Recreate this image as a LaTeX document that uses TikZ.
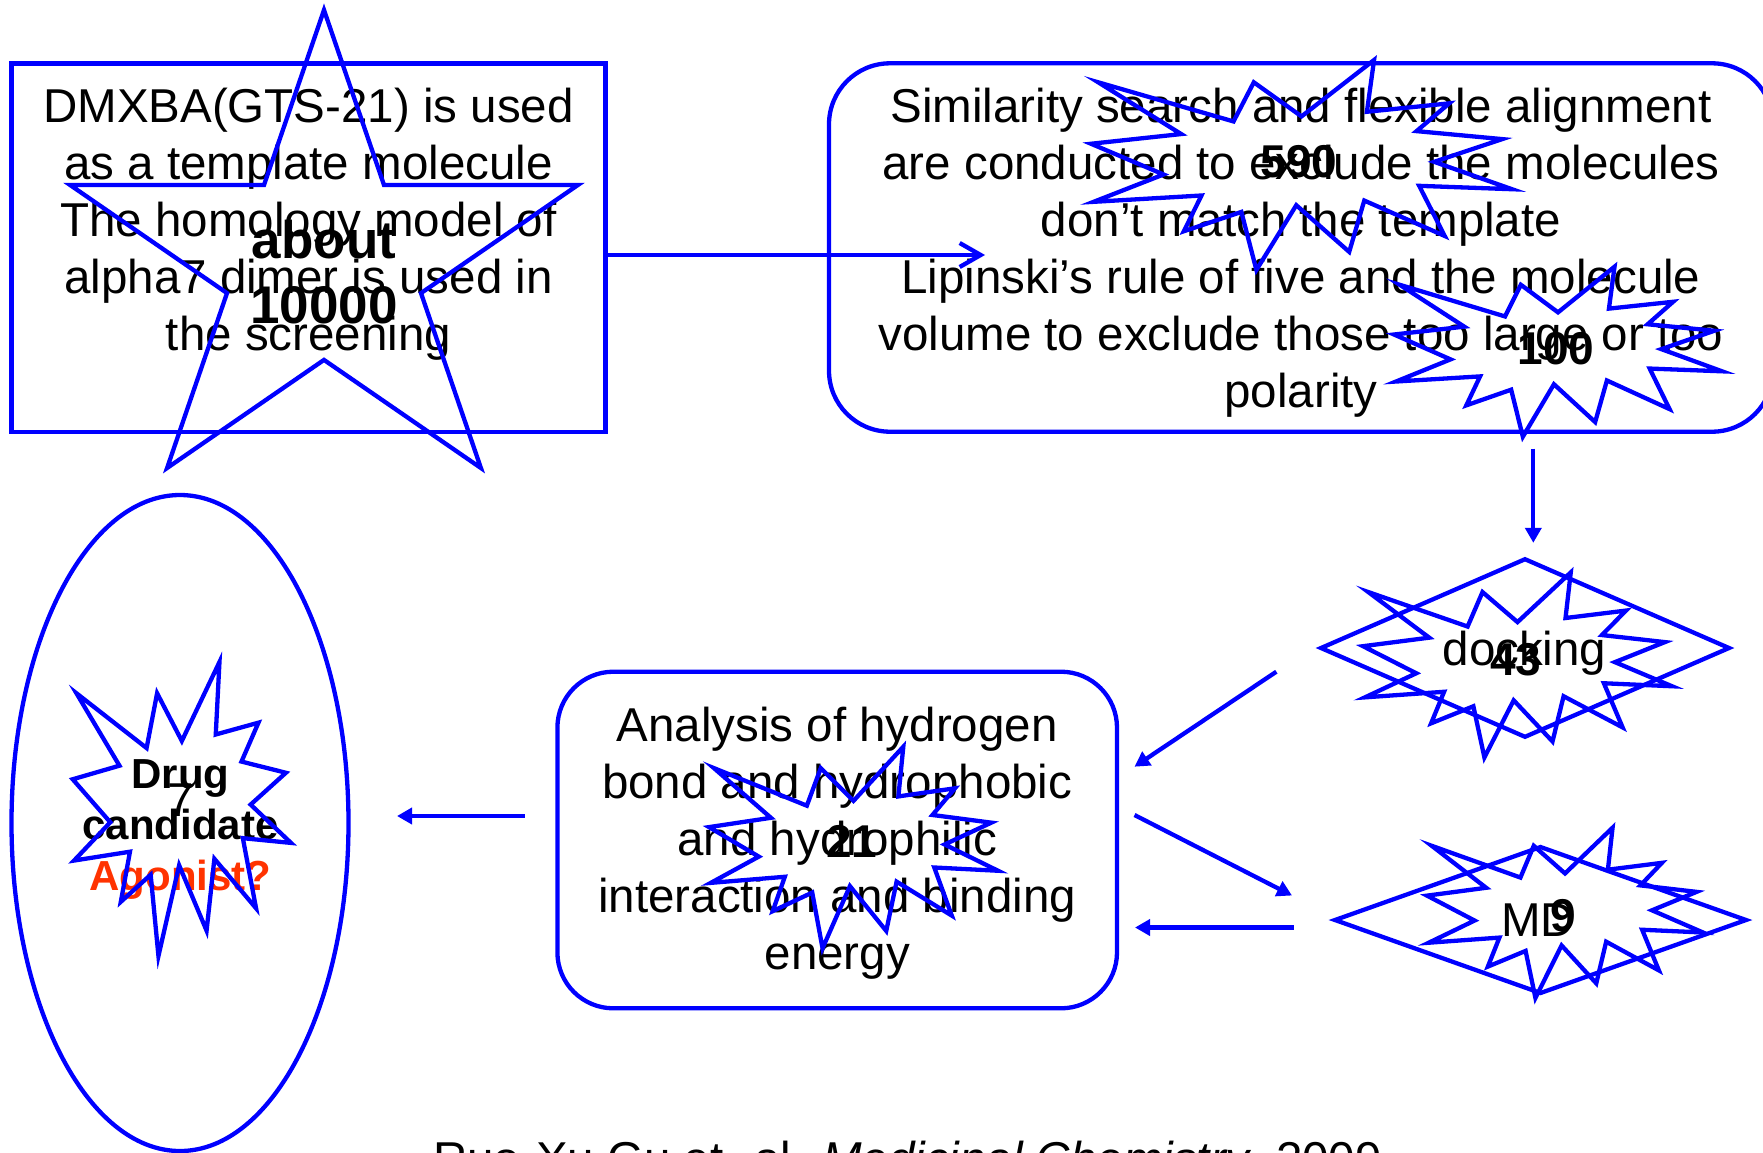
\documentclass[tikz,border=0pt]{standalone}
\usepackage{fontspec}
\setmainfont{Liberation Sans}
\usetikzlibrary{shapes.geometric,arrows.meta}
\definecolor{pblue}{RGB}{0,0,255}
\definecolor{pred}{RGB}{255,51,0}
\begin{document}
\begin{tikzpicture}[x=1pt,y=-1pt,
  shapeline/.style={draw=pblue,line width=4.3pt},
  boxshape/.style={shapeline,inner sep=0pt,outer sep=0pt},
  arrowline/.style={draw=pblue,line width=4.3pt,-{Triangle[length=15pt,width=16pt]}},
  openarrow/.style={draw=pblue,line width=4.3pt,-{Straight Barb[length=21pt,width=24pt]}},
  txt/.style={inner sep=0pt,anchor=base,font=\fontsize{47.5}{57}\selectfont},
  bnum/.style={inner sep=0pt,anchor=base,font=\fontsize{46}{55}\selectfont\bfseries},
  bignum/.style={inner sep=0pt,anchor=base,font=\fontsize{53}{64}\selectfont\bfseries},
  drug/.style={inner sep=0pt,anchor=base,font=\fontsize{42}{50}\selectfont\bfseries},
  burst/.pic={\draw[shapeline] (108,58) -- (145.22,0) -- (141.55,53.25) -- (183.80,44.57)
      -- (167.02,73.15) -- (210.97,81.37) -- (176.07,104.75) -- (216,132.90)
      -- (168.37,129.42) -- (181.45,180.95) -- (140.20,144.57) -- (132.47,197.37)
      -- (105.32,149.35) -- (84.85,216) -- (77.15,156.27) -- (47.62,176.17)
      -- (56.67,139.37) -- (1.35,145.87) -- (37.22,117.75) -- (0,86.15)
      -- (46.27,76.17) -- (3.70,22.95) -- (73.12,63.20) -- (83.52,22.95) -- cycle;}
]
\useasboundingbox (0,0) rectangle (1763,1152);
\clip (0,0) rectangle (1763,1152);
\fill[white] (0,0) rectangle (1763,1152);

% shapes
\node[boxshape,minimum width=594pt,minimum height=368.5pt] (leftbox) at (308.5,247.75) {};
\node[boxshape,rounded corners=61pt,minimum width=944pt,minimum height=368.4pt] (rbox) at (1301,247.5) {};
\node[boxshape,rounded corners=56pt,minimum width=559.6pt,minimum height=336.6pt] (abox) at (837.2,840) {};
\node[boxshape,ellipse,minimum width=337pt,minimum height=656pt] (goal) at (180,823) {};
\node[boxshape,diamond,minimum width=408pt,minimum height=177.6pt] (dock) at (1525,648) {};
\node[boxshape,diamond,minimum width=411pt,minimum height=146pt] (md) at (1540.5,920) {};

% texts
\node[txt] (lb1) at (308.5,122) {DMXBA(GTS-21) is used};
\node[txt] (lb2) at (308.5,179) {as a template molecule};
\node[txt] (lb3) at (308.5,236) {The homology model of};
\node[txt] (lb4) at (308.5,293) {alpha7 dimer is used in};
\node[txt] (lb5) at (308.5,350) {the screening};

\node[txt] (rb1) at (1301,122) {Similarity search and flexible alignment};
\node[txt] (rb2) at (1301,179) {are conducted to exclude the molecules};
\node[txt] (rb3) at (1301,236) {don’t match the template};
\node[txt] (rb4) at (1301,293) {Lipinski’s rule of five and the molecule};
\node[txt] (rb5) at (1301,350) {volume to exclude those too large or too};
\node[txt] (rb6) at (1301,407) {polarity};

\node[txt] (ab1) at (837.2,741.5) {Analysis of hydrogen};
\node[txt] (ab2) at (837.2,798.5) {bond and hydrophobic};
\node[txt] (ab3) at (837.2,855.5) {and hydrophilic};
\node[txt] (ab4) at (837.2,912.5) {interaction and binding};
\node[txt] (ab5) at (837.2,969.5) {energy};

\node[txt] (docklabel) at (1524.5,665.3) {docking};
\node[txt] (mdlabel) at (1538,936.8) {MD};

\node[drug] (g1) at (180.5,788.5) {Drug};
\node[drug] (g2) at (180.5,839) {candidate};
\node[drug,text=pred] (g3) at (180.5,890.5) {Agonist?};

% star and bursts
\draw[shapeline] (324,10) -- (384,185) -- (577.9,185) -- (421,293.1) -- (480.9,468)
  -- (324,359.9) -- (167.1,468) -- (227,293.1) -- (70.1,185) -- (264,185) -- cycle;
\pic[xscale=1.9491,yscale=0.9722] at (1091,60) {burst};
\pic[xscale=1.5185,yscale=0.7870] at (1394,266.7) {burst};
\pic[xscale=1.4306,yscale=0.8565] at (1363,572.4) {burst};
\pic[xscale=1.2778,yscale=0.7884] at (1427,827.7) {burst};
\pic[xscale=1.3380,yscale=0.9333] at (709,746.7) {burst};
\pic[xscale=1.0106,yscale=1.3611] at (72.7,662) {burst};

% numbers
\node[bignum] (n1a) at (324,258.3) {about};
\node[bignum] (n1b) at (324,323.3) {10000};
\node[bnum] (n2) at (1299,177) {590};
\node[bnum] (n3) at (1556,364) {100};
\node[bnum] (n4) at (1515.6,675) {43};
\node[bnum] (n5) at (1563.3,931) {9};
\node[bnum] (n6) at (851.7,857.5) {21};
\node[txt] (n7) at (180.5,816) {7};

% connectors
\coordinate (a1e) at (985,255);
\coordinate (a2s) at (1533.3,448.5);
\coordinate (a2e) at (1533.3,542.8);
\coordinate (a3s) at (1276.3,671.7);
\coordinate (a3e) at (1134.5,766.7);
\coordinate (a4s) at (1134.5,815);
\coordinate (a4e) at (1292,895.5);
\coordinate (a5s) at (1293.5,927.5);
\coordinate (a5e) at (1135,927.5);
\coordinate (a6s) at (524.5,816);
\coordinate (a6e) at (397,816);
\draw[openarrow] ([yshift=-7.25pt]leftbox.east) -- (a1e);
\draw[arrowline] (a2s) -- (a2e);
\draw[arrowline] (a3s) -- (a3e);
\draw[arrowline] (a4s) -- (a4e);
\draw[arrowline] (a5s) -- (a5e);
\draw[arrowline] (a6s) -- (a6e);

% citation (cut by the lower edge)
\node[txt,anchor=base west] (cite) at (433,1175.5) {Ruo-Xu Gu et. al. \textit{Medicinal Chemistry}, 2009};
\end{tikzpicture}
\end{document}
